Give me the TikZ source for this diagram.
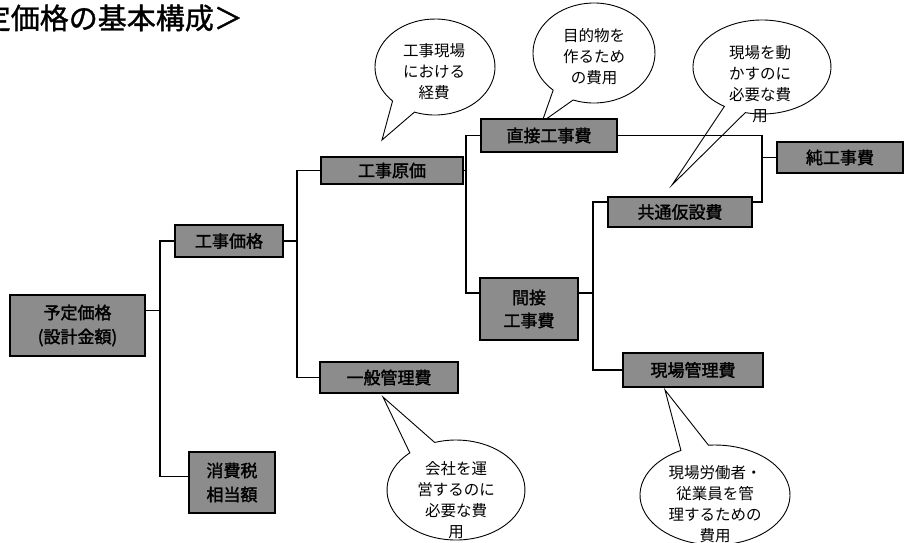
\documentclass[tikz,border=0pt]{standalone}
\usepackage{fontspec}
\newfontfamily\cjk{Noto Sans CJK JP}
\newfontfamily\cjkb[FakeBold=1.8]{Noto Sans CJK JP}
\newfontfamily\cjkt[FakeBold=1.2]{Noto Sans CJK JP}
\begin{document}
\begin{tikzpicture}[x=1pt,y=-1pt,
  box/.style={draw=black, line width=1.1pt, fill=black!45, inner sep=0pt,
    font=\cjkb\fontsize{17}{24}\selectfont, align=center, text=black},
  conn/.style={line width=1.2pt},
  bubble/.style={draw=black, line width=0.9pt, fill=white},
  btext/.style={font=\cjk\fontsize{15.5}{21}\selectfont, align=center, inner sep=0pt}]
\useasboundingbox (0,0) rectangle (906,542);
\clip (0,0) rectangle (906,542);

% title
\node[anchor=east, inner sep=0pt, font=\cjkt\fontsize{29}{29}\selectfont] (title) at (243,18) {定価格の基本構成＞};

% bubbles
\coordinate (p1) at (382,140);
\coordinate (p2) at (542,122);
\coordinate (p3) at (672,185);
\coordinate (p4) at (383,397);
\coordinate (p5) at (665,390);

\draw[bubble] (435,67) ++(250:60pt and 48pt)
  arc[start angle=250, end angle=585, x radius=60pt, y radius=48pt] -- (p1) -- cycle;
\draw[bubble] (594,53) ++(250:61pt and 50pt)
  arc[start angle=250, end angle=588, x radius=61pt, y radius=50pt] -- (p2) -- cycle;
\draw[bubble] (762,67) ++(256:69pt and 47pt)
  arc[start angle=256, end angle=597, x radius=69pt, y radius=47pt] -- (p3) -- cycle;
\draw[bubble] (456,490) ++(132:69pt and 50pt)
  arc[start angle=132, end angle=468, x radius=69pt, y radius=50pt] -- (p4) -- cycle;
\draw[bubble] (715,495) ++(117:75pt and 50pt)
  arc[start angle=117, end angle=455, x radius=75pt, y radius=50pt] -- (p5) -- cycle;

\node[btext] (t1) at (434,72) {工事現場\\における\\経費};
\node[btext] (t2) at (594,57) {目的物を\\作るため\\の費用};
\node[btext] (t3) at (760,84) {現場を動\\かすのに\\必要な費\\用};
\node[btext] (t4) at (456,500) {会社を運\\営するのに\\必要な費\\用};
\node[btext] (t5) at (715,504) {現場労働者・\\従業員を管\\理するための\\費用};

% boxes
\node[box, minimum width=135pt, minimum height=61pt] (A) at (77.5,325.5) {予定価格\\(設計金額)};
\node[box, minimum width=108pt, minimum height=32pt] (B) at (229,241) {工事価格};
\node[box, minimum width=86pt, minimum height=61pt] (C) at (232,482.5) {消費税\\相当額};
\node[box, minimum width=142pt, minimum height=27pt] (D) at (392,170.5) {工事原価};
\node[box, minimum width=138pt, minimum height=31pt] (E) at (389,377.5) {一般管理費};
\node[box, minimum width=136pt, minimum height=33pt] (F) at (549,135.5) {直接工事費};
\node[box, minimum width=98pt, minimum height=62pt, font=\cjkb\fontsize{17}{23}\selectfont] (G) at (529,309) {間接\\工事費};
\node[box, minimum width=144pt, minimum height=30pt] (H) at (680,212) {共通仮設費};
\node[box, minimum width=140pt, minimum height=34pt] (I) at (693,370) {現場管理費};
\node[box, minimum width=126pt, minimum height=31pt] (J) at (840,157.5) {純工事費};

% trunk positions
\coordinate (k1) at (160,0);
\coordinate (k2) at (297,0);
\coordinate (k3) at (466,0);
\coordinate (k4) at (762,0);
\coordinate (k5) at (593,0);

% connectors
\draw[conn] ([yshift=15pt]A.east) -- ([yshift=15pt]A.east -| k1);
\draw[conn] (B.west) -| ([yshift=6pt]C.west -| k1) -- ([yshift=6pt]C.west);

\draw[conn] (B.east) -- (B.east -| k2);
\draw[conn] (D.west) -| (E.west -| k2) -- (E.west);

\draw[conn] (D.east) -- (D.east -| k3);
\draw[conn] (F.west) -| ([yshift=16pt]G.west -| k3) -- ([yshift=16pt]G.west);

\draw[conn] ([yshift=16pt]G.east) -- ([yshift=16pt]G.east -| k5);
\draw[conn] ([yshift=10pt]H.west) -| (I.west -| k5) -- (I.west);

\draw[conn] (F.east) -| ([yshift=10pt]H.east -| k4) -- ([yshift=10pt]H.east);
\draw[conn] (J.west) -- (J.west -| k4);
\end{tikzpicture}
\end{document}
